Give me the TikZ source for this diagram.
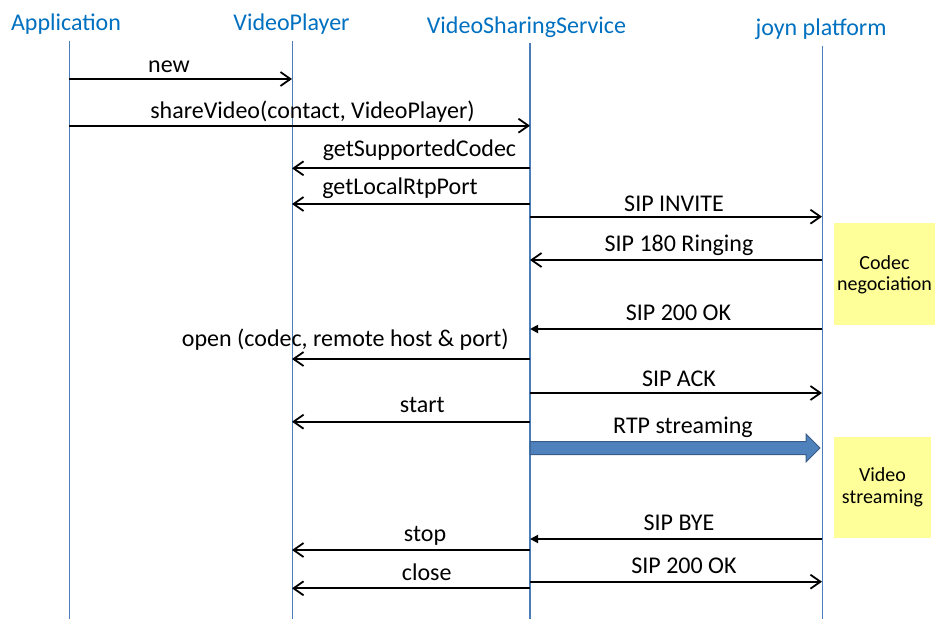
\documentclass[tikz,border=0pt]{standalone}
\usepackage{fontspec}
\setmainfont{Carlito}
\usetikzlibrary{arrows.meta,calc}
\definecolor{hdrblue}{RGB}{0,112,192}
\definecolor{lifeblue}{RGB}{74,126,187}
\definecolor{rtpfill}{RGB}{79,129,189}
\definecolor{rtpedge}{RGB}{56,93,138}
\definecolor{notefill}{RGB}{255,255,153}
\tikzset{
  hdr/.style={font=\fontsize{24}{28}\selectfont, text=hdrblue, anchor=base, inner sep=0pt},
  lbl/.style={font=\fontsize{24}{28}\selectfont, anchor=base, inner sep=0pt},
  notetext/.style={font=\fontsize{20}{23}\selectfont, anchor=base, inner sep=0pt},
  life/.style={draw=lifeblue, line width=1pt},
  msg/.style={line width=1.8pt, -{Straight Barb[length=10pt,width=14pt,line width=1.8pt]}},
  msgf/.style={line width=1.8pt, -{Triangle[length=8pt,width=8pt]}},
  rtp/.style={fill=rtpfill, draw=rtpedge, line width=1pt, line join=miter},
  note/.style={fill=notefill, draw=none, inner sep=0pt},
}
\begin{document}
\begin{tikzpicture}[x=1pt, y=-1pt]
\useasboundingbox (0,0) rectangle (935,619);

% participants
\node[hdr] (happ) at (66,30) {Application};
\node[hdr] (hvp)  at (291.5,30) {VideoPlayer};
\node[hdr] (hvss) at (526.5,33) {VideoSharingService};
\node[hdr] (hjoy) at (821,35) {joyn platform};

% lifeline x positions
\coordinate (A) at (69,0);
\coordinate (P) at (292,0);
\coordinate (S) at (530,0);
\coordinate (J) at (822,0);

\coordinate (Atop) at (A |- 0,41);  \coordinate (Abot) at (A |- 0,619);
\coordinate (Ptop) at (P |- 0,41);  \coordinate (Pbot) at (P |- 0,619);
\coordinate (Stop) at (S |- 0,43);  \coordinate (Sbot) at (S |- 0,619);
\coordinate (Jtop) at (J |- 0,46);  \coordinate (Jbot) at (J |- 0,619);

\draw[life] (Atop) -- (Abot);
\draw[life] (Ptop) -- (Pbot);
\draw[life, line width=1.6pt] (Stop) -- (Sbot);
\draw[life] (Jtop) -- (Jbot);

% notes
\node[note, minimum width=101pt, minimum height=101.7pt] (codecbox) at (884.5,274.2) {};
\node[notetext] (codec1) at (884.5,269.3) {Codec};
\node[notetext] (codec2) at (884.5,290.5) {negociation};
\node[note, minimum width=97pt, minimum height=101pt] (vidbox) at (882.5,487.5) {};
\node[notetext] (vid1) at (882.5,481.7) {Video};
\node[notetext] (vid2) at (882.5,503.5) {streaming};

% messages
\draw[msg] (A |- 0,79) -- (P |- 0,79);
\node[lbl] (lnew) at (169,72.7) {new};

\draw[msg] (A |- 0,125.7) -- (S |- 0,125.7);
\node[lbl] (lshare) at (312.5,118) {shareVideo(contact, VideoPlayer)};

\draw[msg] (S |- 0,168.3) -- (P |- 0,168.3);
\node[lbl] (lcodec) at (419.5,156.7) {getSupportedCodec};

\draw[msg] (S |- 0,204) -- (P |- 0,204);
\node[lbl] (lport) at (400,194.3) {getLocalRtpPort};

\draw[msg] (S |- 0,216.7) -- (J |- 0,216.7);
\node[lbl] (linvite) at (674,211.7) {SIP INVITE};

\draw[msg] (J |- 0,260) -- (S |- 0,260);
\node[lbl] (lring) at (679,251.7) {SIP 180 Ringing};

\draw[msgf] (J |- 0,329) -- (S |- 0,329);
\node[lbl] (lok1) at (678.5,320) {SIP 200 OK};

\draw[msg] (S |- 0,359) -- (P |- 0,359);
\node[lbl] (lopen) at (345.3,346.7) {open (codec, remote host \& port)};

\draw[msg] (S |- 0,393) -- (J |- 0,393);
\node[lbl] (lack) at (679,386) {SIP ACK};

\draw[msg] (S |- 0,421.7) -- (P |- 0,421.7);
\node[lbl] (lstart) at (422.3,412.7) {start};

% media stream
\coordinate (rtptail) at (S |- 0,448);
\coordinate (rtptip) at ($(J |- 0,448)+(-2,0)$);
\filldraw[rtp] ($(rtptail)+(0,-6.5)$) -- ($(rtptip)+(-14,-6.5)$) -- ($(rtptip)+(-14,-14)$)
  -- (rtptip) -- ($(rtptip)+(-14,14)$) -- ($(rtptip)+(-14,6.5)$) -- ($(rtptail)+(0,6.5)$) -- cycle;
\node[lbl] (lrtp) at (683,433.3) {RTP streaming};

\draw[msgf] (J |- 0,539) -- (S |- 0,539);
\node[lbl] (lbye) at (679,530) {SIP BYE};

\draw[msg] (S |- 0,550) -- (P |- 0,550);
\node[lbl] (lstop) at (425,541.7) {stop};

\draw[msg] (S |- 0,581.7) -- (J |- 0,581.7);
\node[lbl] (lok2) at (684,573.3) {SIP 200 OK};

\draw[msg] (S |- 0,588.3) -- (P |- 0,588.3);
\node[lbl] (lclose) at (426.7,580) {close};
\end{tikzpicture}
\end{document}
